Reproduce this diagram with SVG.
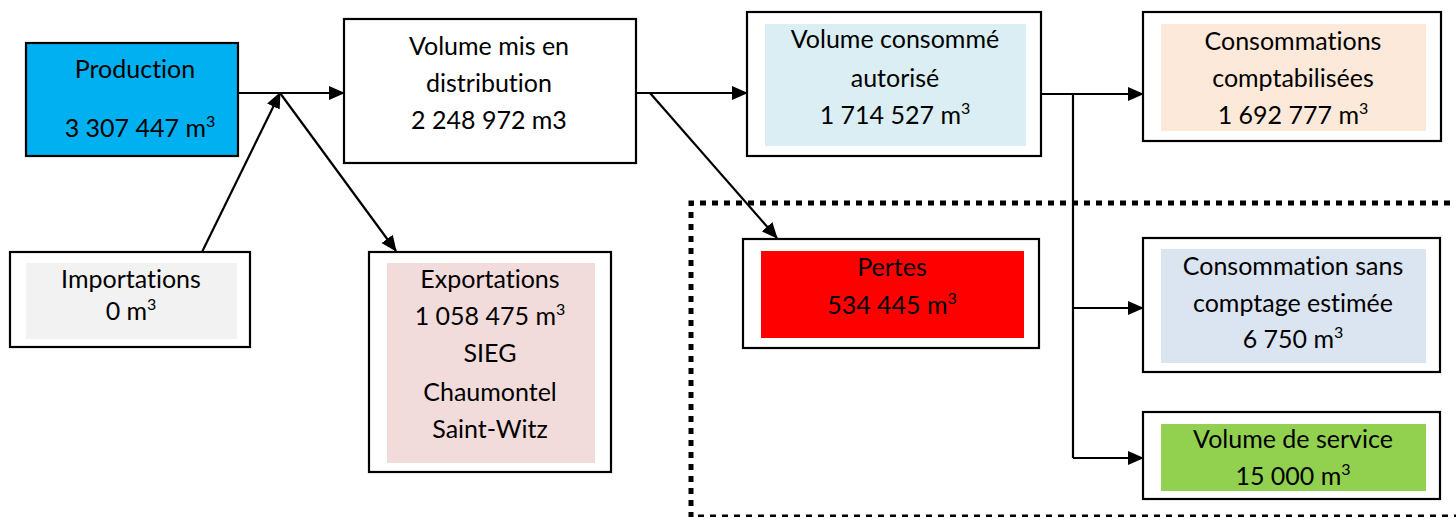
<svg xmlns="http://www.w3.org/2000/svg" width="1456" height="517" viewBox="0 0 1456 517">
<defs>
<marker id="ah" markerUnits="userSpaceOnUse" markerWidth="16" markerHeight="16" viewBox="0 0 16 16" refX="15" refY="8" orient="auto">
<path d="M0,1 L16,8 L0,15 Z" fill="#000"/>
</marker>
<style>
.box{fill:#fff;stroke:#000;stroke-width:2.2}
.t{font-family:Lato,"Liberation Sans",sans-serif;font-size:25px;fill:#000;text-anchor:middle;font-variant-ligatures:none;font-feature-settings:"liga" 0,"clig" 0}
.sup{font-size:16px}
.c{fill:none;stroke:#000;stroke-width:2.2}
.ca{fill:none;stroke:#000;stroke-width:2.2;marker-end:url(#ah)}
</style>
</defs>
<rect width="1456" height="517" fill="#fff"/>
<path d="M1462,203 H691 V517 H1462" fill="none" stroke="#000" stroke-width="5" stroke-dasharray="6 6"/>
<g id="production">
<rect x="26" y="43" width="212" height="113" fill="#00B0F0" stroke="#000" stroke-width="2.2"/>
<text class="t" x="135" y="78">Production</text>
<text class="t" x="140" y="137">3 307 447 m<tspan class="sup" dy="-10">3</tspan></text>
</g>
<g id="importations">
<rect class="box" x="10" y="252" width="240" height="95"/>
<rect x="26" y="263" width="211" height="76" fill="#F2F2F2"/>
<text class="t" x="131" y="288">Importations</text>
<text class="t" x="131" y="320">0 m<tspan class="sup" dy="-10">3</tspan></text>
</g>
<g id="distribution">
<rect class="box" x="344" y="19" width="292" height="144"/>
<text class="t" x="489" y="55">Volume mis en</text>
<text class="t" x="489" y="92">distribution</text>
<text class="t" x="489" y="129">2 248 972 m3</text>
</g>
<g id="exportations">
<rect class="box" x="369" y="252" width="242" height="220"/>
<rect x="387" y="263" width="208" height="200" fill="#F2DCDB"/>
<text class="t" x="490" y="288">Exportations</text>
<text class="t" x="490" y="325">1 058 475 m<tspan class="sup" dy="-10">3</tspan></text>
<text class="t" x="490" y="362">SIEG</text>
<text class="t" x="490" y="401">Chaumontel</text>
<text class="t" x="490" y="438">Saint-Witz</text>
</g>
<g id="consomme">
<rect class="box" x="747" y="12" width="294" height="144"/>
<rect x="765" y="24" width="261" height="122" fill="#DAEEF3"/>
<text class="t" x="895" y="48">Volume consommé</text>
<text class="t" x="895" y="87">autorisé</text>
<text class="t" x="895" y="124">1 714 527 m<tspan class="sup" dy="-10">3</tspan></text>
</g>
<g id="pertes">
<rect class="box" x="743" y="239" width="296" height="109"/>
<rect x="761" y="251" width="263" height="87" fill="#FF0000"/>
<text class="t" x="892" y="276">Pertes</text>
<text class="t" x="892" y="314">534 445 m<tspan class="sup" dy="-10">3</tspan></text>
</g>
<g id="comptabilisees">
<rect class="box" x="1143" y="12" width="298" height="129"/>
<rect x="1161" y="24" width="265" height="107" fill="#FDE9D9"/>
<text class="t" x="1293" y="50">Consommations</text>
<text class="t" x="1293" y="87">comptabilisées</text>
<text class="t" x="1293" y="124">1 692 777 m<tspan class="sup" dy="-10">3</tspan></text>
</g>
<g id="sans-comptage">
<rect class="box" x="1143" y="238" width="297" height="134"/>
<rect x="1161" y="249" width="265" height="114" fill="#DBE5F1"/>
<text class="t" x="1293" y="275">Consommation sans</text>
<text class="t" x="1293" y="312">comptage estimée</text>
<text class="t" x="1293" y="348">6 750 m<tspan class="sup" dy="-10">3</tspan></text>
</g>
<g id="service">
<rect class="box" x="1143" y="412" width="297" height="87"/>
<rect x="1161" y="424" width="265" height="67" fill="#92D050"/>
<text class="t" x="1293" y="448">Volume de service</text>
<text class="t" x="1293" y="485">15 000 m<tspan class="sup" dy="-10">3</tspan></text>
</g>
<g id="connectors">
<path class="ca" d="M237,93 H344"/>
<path class="ca" d="M202,252 L280,93"/>
<path class="ca" d="M280,93 L396,251"/>
<path class="ca" d="M636,93 H747"/>
<path class="ca" d="M650,93 L777,238"/>
<path class="ca" d="M1041,94 H1143"/>
<path class="c" d="M1073,94 V458"/>
<path class="ca" d="M1073,308 H1143"/>
<path class="ca" d="M1073,458 H1143"/>
</g>
</svg>
